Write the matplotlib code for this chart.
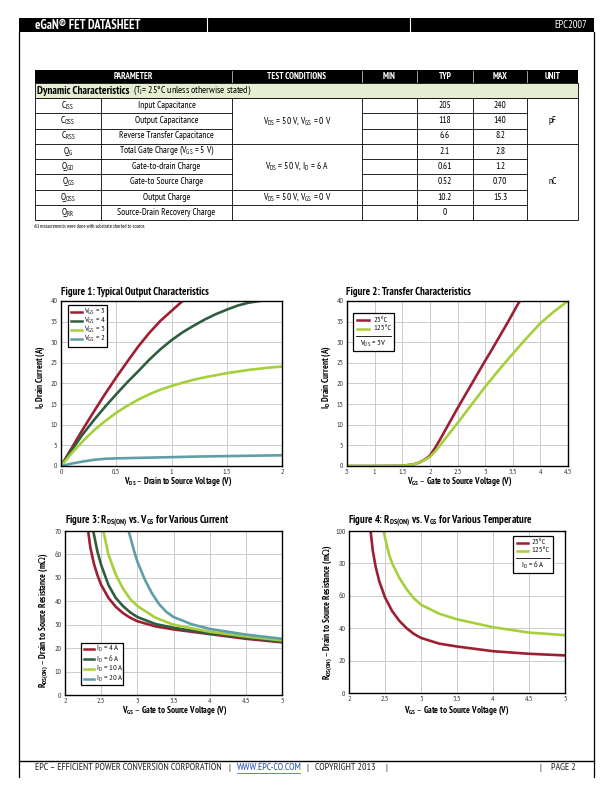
import matplotlib.pyplot as plt
from matplotlib.patches import Rectangle

plt.rcParams['font.family'] = ['PT Sans Narrow', 'Roboto Condensed', 'DejaVu Sans']
plt.rcParams['mathtext.default'] = 'regular'

RED = '#9e1f32'
DGREEN = '#2f5e3e'
LIME = '#a6cf3c'
TEAL = '#5f9ea6'
GRID = '#cccccc'
TXT = '#333333'

# ---- table data ----
symbols = ['C$_{ISS}$', 'C$_{OSS}$', 'C$_{RSS}$', 'Q$_{G}$', 'Q$_{GD}$', 'Q$_{GS}$', 'Q$_{OSS}$', 'Q$_{RR}$']
params = ['Input Capacitance', 'Output Capacitance', 'Reverse Transfer Capacitance',
          'Total Gate Charge (V$_{GS}$ = 5 V)', 'Gate-to-drain Charge', 'Gate-to Source Charge',
          'Output Charge', 'Source-Drain Recovery Charge']
typ = ['205', '118', '6.6', '2.1', '0.61', '0.52', '10.2', '0']
mx = ['240', '140', '8.2', '2.8', '1.2', '0.70', '15.3', '']
cond_groups = [(0, 2, 'V$_{DS}$ = 50 V, V$_{GS}$ = 0 V'), (3, 5, 'V$_{DS}$ = 50 V, I$_{D}$ = 6 A'),
               (6, 6, 'V$_{DS}$ = 50 V, V$_{GS}$ = 0 V'), (7, 7, '')]
unit_groups = [(0, 2, 'pF'), (3, 7, 'nC')]

# ---- Figure 1: output characteristics ----
f1_vgs5_x = [0, 0.1, 0.2, 0.3, 0.4, 0.5, 0.6, 0.7, 0.8, 0.9, 1.0, 1.1]
f1_vgs5_y = [0, 4.5, 9, 13.3, 17.5, 21.5, 25.3, 29, 32.3, 35.2, 37.6, 40]
f1_vgs4_x = [0, 0.1, 0.2, 0.3, 0.4, 0.5, 0.6, 0.7, 0.8, 0.9, 1.0, 1.1, 1.2, 1.3, 1.4, 1.5, 1.6, 1.7, 1.8]
f1_vgs4_y = [0, 4, 7.8, 11.2, 14.4, 17.4, 20.3, 23, 25.8, 28.3, 30.5, 32.4, 34, 35.5, 36.8, 37.9, 38.9, 39.6, 40]
f1_vgs3_x = [0, 0.1, 0.2, 0.3, 0.4, 0.5, 0.6, 0.7, 0.8, 0.9, 1.0, 1.1, 1.2, 1.3, 1.4, 1.5, 1.6, 1.7, 1.8, 1.9, 2.0]
f1_vgs3_y = [0, 3.2, 6.1, 8.7, 10.9, 12.9, 14.6, 16.1, 17.4, 18.5, 19.4, 20.2, 20.9, 21.5, 22.0, 22.5, 22.9, 23.3, 23.6, 23.9, 24.1]
f1_vgs2_x = [0, 0.1, 0.2, 0.3, 0.4, 0.5, 0.75, 1.0, 1.25, 1.5, 1.75, 2.0]
f1_vgs2_y = [0, 0.6, 1.1, 1.5, 1.75, 1.85, 2.0, 2.15, 2.3, 2.4, 2.5, 2.6]

# ---- Figure 2: transfer characteristics ----
f2_25_x = [0.5, 1.0, 1.5, 1.7, 1.8, 1.9, 2.0, 2.1, 2.2, 2.3, 2.4, 2.5, 2.6, 2.7, 2.8, 2.9, 3.0, 3.1, 3.2, 3.3, 3.4, 3.5, 3.6, 3.63]
f2_25_y = [0, 0, 0.05, 0.4, 0.8, 1.5, 2.5, 4.5, 6.8, 9.2, 11.6, 14, 16.3, 18.6, 20.9, 23.2, 25.5, 27.7, 30, 32.3, 34.6, 37, 39.4, 40]
f2_125_x = [0.5, 1.0, 1.5, 1.7, 1.8, 1.9, 2.0, 2.1, 2.2, 2.3, 2.4, 2.5, 2.75, 3.0, 3.25, 3.5, 3.75, 4.0, 4.25, 4.5]
f2_125_y = [0, 0, 0.05, 0.4, 0.8, 1.4, 2.2, 3.6, 5.3, 7.0, 8.7, 10.4, 14.8, 19.2, 23.3, 27.2, 31, 34.6, 37.5, 40]

# ---- Figure 3: RDS(on) vs VGS, various current ----
f3_4a_x = [2.32, 2.35, 2.4, 2.45, 2.5, 2.6, 2.7, 2.8, 2.9, 3.0, 3.25, 3.5, 4.0, 4.5, 5.0]
f3_4a_y = [70, 63, 56, 51, 47, 41.5, 37.7, 35, 33, 31.5, 29.3, 28, 26, 24, 22.5]
f3_6a_x = [2.39, 2.45, 2.5, 2.6, 2.7, 2.8, 2.9, 3.0, 3.25, 3.5, 4.0, 4.5, 5.0]
f3_6a_y = [70, 61, 55.5, 47, 41.5, 38, 35.3, 33.3, 30.3, 28.7, 26.3, 24.5, 22.8]
f3_10a_x = [2.53, 2.6, 2.7, 2.8, 2.9, 3.0, 3.25, 3.5, 4.0, 4.5, 5.0]
f3_10a_y = [70, 60, 51.5, 45.5, 41, 38, 33, 30, 27, 25, 23.3]
f3_20a_x = [2.88, 2.95, 3.0, 3.1, 3.2, 3.3, 3.4, 3.5, 3.75, 4.0, 4.5, 5.0]
f3_20a_y = [70, 62, 57, 49.5, 43.5, 38.8, 35.5, 33.3, 30.2, 28.2, 25.8, 24]

# ---- Figure 4: RDS(on) vs VGS, various temperature ----
f4_25_x = [2.3, 2.33, 2.37, 2.42, 2.5, 2.6, 2.7, 2.8, 2.9, 3.0, 3.25, 3.5, 4.0, 4.5, 5.0]
f4_25_y = [100, 88, 78, 69, 59, 50.5, 44.5, 40, 36.5, 34, 30.5, 28.7, 25.8, 24.2, 23.2]
f4_125_x = [2.48, 2.52, 2.56, 2.6, 2.7, 2.8, 2.9, 3.0, 3.25, 3.5, 4.0, 4.5, 5.0]
f4_125_y = [100, 92, 85, 80, 71, 64, 58.5, 54.5, 49, 45.5, 40.6, 37.3, 35.7]

fig = plt.figure(figsize=(6.12, 7.92), dpi=100)
pg = fig.add_axes([0, 0, 1, 1])
pg.set_xlim(0, 612)
pg.set_ylim(792, 0)
pg.axis('off')
renderer = fig.canvas.get_renderer()


def fit(t, size, vertical=False):
    # scale a text so that it spans `size` pixels, like in the datasheet
    bb = t.get_window_extent(renderer)
    cur = bb.height if vertical else bb.width
    t.set_fontsize(t.get_fontsize() * size / cur)
    return t.get_fontsize()


def px_axes(l, t, r, b):
    return fig.add_axes([l / 612, 1 - b / 792, (r - l) / 612, (b - t) / 792])


# ---- page frame, header, footer ----
pg.add_patch(Rectangle((19, 18), 575, 14, fc='black', ec='none'))
for xd in [207, 410]:
    pg.plot([xd, xd], [18, 32], color='white', lw=0.8)
fit(pg.text(35, 25.5, 'eGaN® FET DATASHEET', color='white', fontsize=8, fontweight='bold', va='center'), 106)
fit(pg.text(587, 25.5, 'EPC2007', color='white', fontsize=8, ha='right', va='center'), 33)
pg.plot([19, 19], [32, 777], color='black', lw=0.9)
pg.plot([594, 594], [32, 777], color='black', lw=0.9)
pg.plot([19, 594], [761, 761], color='black', lw=1.0)
fy = 768
fc = '#222222'
ffs = fit(pg.text(35, fy, 'EPC – EFFICIENT POWER CONVERSION CORPORATION', fontsize=7, va='center', color=fc), 188)
pg.text(229, fy, '|', fontsize=ffs, va='center', ha='center', color=fc)
pg.text(237, fy, 'WWW.EPC-CO.COM', fontsize=ffs, va='center', color='#2a4fb0')
pg.plot([237, 300], [fy + 4.5, fy + 4.5], color='#2a4fb0', lw=0.5)
pg.text(307, fy, '|', fontsize=ffs, va='center', ha='center', color=fc)
pg.text(315, fy, 'COPYRIGHT 2013', fontsize=ffs, va='center', color=fc)
pg.text(386, fy, '|', fontsize=ffs, va='center', ha='center', color=fc)
pg.text(540, fy, '|', fontsize=ffs, va='center', ha='center', color=fc)
pg.text(576, fy, 'PAGE 2', fontsize=ffs, va='center', ha='right', color=fc)

# ---- table ----
cols = [35, 101, 232, 362, 417, 473, 527, 578]
rb = [98, 113, 128.5, 143.5, 159, 174, 189.5, 205, 220]
lw_t = 0.6
pg.add_patch(Rectangle((35, 70), 543, 13, fc='black', ec='none'))
for xc in cols[2:-1]:
    pg.plot([xc, xc], [71, 82], color='#bbbbbb', lw=0.6)
probe = pg.text(0, 0, 'PARAMETER', fontsize=6, fontweight='bold')
hfs = fit(probe, 40)
probe.remove()
heads = [('PARAMETER', (35 + 232) / 2), ('TEST CONDITIONS', (232 + 362) / 2), ('MIN', 389.5),
         ('TYP', 445), ('MAX', 500), ('UNIT', 552.5)]
for h, hx in heads:
    pg.text(hx, 76.5, h, color='white', fontsize=hfs, fontweight='bold', ha='center', va='center')
probe = pg.text(0, 0, 'Reverse Transfer Capacitance', fontsize=6)
tfs = fit(probe, 95)
probe.remove()
pg.add_patch(Rectangle((35, 83), 543, 15, fc='#e6eed2', ec='black', lw=lw_t))
fit(pg.text(37, 90.5, 'Dynamic Characteristics', fontsize=7, fontweight='bold', va='center'), 93)
fit(pg.text(133, 90.5, '(T$_J$= 25°C unless otherwise stated)', fontsize=7, va='center'), 119)
pg.add_patch(Rectangle((35, 98), 543, 122, fc='white', ec='black', lw=lw_t))
for xc in cols[1:-1]:
    pg.plot([xc, xc], [98, 220], color='black', lw=lw_t)
for yb in rb[1:-1]:
    for c0, c1 in [(35, 232), (362, 527)]:
        pg.plot([c0, c1], [yb, yb], color='black', lw=lw_t)
for i0, i1, txt in cond_groups:
    if i1 < 7:
        pg.plot([232, 362], [rb[i1 + 1], rb[i1 + 1]], color='black', lw=lw_t)
    pg.text(297, (rb[i0] + rb[i1 + 1]) / 2, txt, fontsize=tfs, ha='center', va='center')
for i0, i1, txt in unit_groups:
    if i1 < 7:
        pg.plot([527, 578], [rb[i1 + 1], rb[i1 + 1]], color='black', lw=lw_t)
    pg.text(552.5, (rb[i0] + rb[i1 + 1]) / 2, txt, fontsize=tfs, ha='center', va='center')
for i in range(8):
    yc = (rb[i] + rb[i + 1]) / 2
    pg.text(68, yc, symbols[i], fontsize=tfs, ha='center', va='center')
    pg.text(166.5, yc, params[i], fontsize=tfs, ha='center', va='center')
    pg.text(445, yc, typ[i], fontsize=tfs, ha='center', va='center')
    pg.text(500, yc, mx[i], fontsize=tfs, ha='center', va='center')
fit(pg.text(34, 227, 'All measurements were done with substrate shorted to source.', fontsize=5, va='center'), 112)


# ---- charts ----
def style_axes(ax, xlim, ylim, xticks, yticks, xtl):
    ax.set_xlim(*xlim)
    ax.set_ylim(*ylim)
    ax.set_xticks(xticks)
    ax.set_yticks(yticks)
    ax.set_xticklabels(xtl)
    ax.grid(True, color=GRID, lw=0.7)
    ax.set_axisbelow(True)
    ax.tick_params(length=0, labelsize=5.6, labelcolor=TXT, pad=2.5)
    for s in ax.spines.values():
        s.set_linewidth(1.0)
        s.set_color('black')


def draw_legend(ax, box, rows, tx0, tx1, tlab, note=None, sep=None, note_y=None):
    l, t, r, b = box
    tr = pg.transData
    ax.add_patch(Rectangle((l, t), r - l, b - t, transform=tr, fc='white', ec='black', lw=0.9, zorder=5,
                           clip_on=False))
    for yy, color, lab in rows:
        ax.plot([tx0, tx1], [yy, yy], color=color, lw=1.8, transform=tr, zorder=6, clip_on=False)
        ax.text(tlab, yy, lab, fontsize=6, va='center', transform=tr, zorder=6, color='#111111')
    if note is not None:
        ax.plot([l + 3, r - 3], [sep, sep], color='black', lw=0.6, transform=tr, zorder=6, clip_on=False)
        ax.text((l + r) / 2, note_y, note, fontsize=6, ha='center', va='center', transform=tr, zorder=6)


# font sizes taken from figure 1 and reused for the other figures
probe = pg.text(0, 0, 'Figure 1: Typical Output Characteristics', fontsize=8, fontweight='bold')
TFS = fit(probe, 147)
probe.remove()
probe = pg.text(0, 0, 'V$_{DS}$ – Drain to Source Voltage (V)', fontsize=7, fontweight='bold')
LFS = fit(probe, 109)
probe.remove()


def title(x, y, s):
    pg.text(x, y, s, fontsize=TFS, fontweight='bold', va='center')


def xlabel(x, y, s):
    pg.text(x, y, s, fontsize=LFS, fontweight='bold', ha='center', va='center')


def ylabel(x, y, s):
    pg.text(x, y, s, fontsize=LFS, fontweight='bold', ha='center', va='center', rotation=90)


LW = 1.9
OHM = 'm$\\mathrm{\\Omega}$'

ax1 = px_axes(61, 301, 282, 466)
ax1.plot(f1_vgs5_x, f1_vgs5_y, color=RED, lw=LW)
ax1.plot(f1_vgs4_x, f1_vgs4_y, color=DGREEN, lw=LW)
ax1.plot(f1_vgs3_x, f1_vgs3_y, color=LIME, lw=LW)
ax1.plot(f1_vgs2_x, f1_vgs2_y, color=TEAL, lw=LW)
style_axes(ax1, (0, 2), (0, 40), [0, 0.5, 1, 1.5, 2], range(0, 41, 5), ['0', '0.5', '1', '1.5', '2'])
draw_legend(ax1, (68, 305, 107, 347),
            [(312, RED, 'V$_{GS}$ = 5'), (321, DGREEN, 'V$_{GS}$ = 4'),
             (330, LIME, 'V$_{GS}$ = 3'), (339, TEAL, 'V$_{GS}$ = 2')], 71, 82, 84)
title(61, 292, 'Figure 1: Typical Output Characteristics')
xlabel(178, 482, 'V$_{DS}$ – Drain to Source Voltage (V)')
ylabel(41, 377, 'I$_D$ Drain Current (A)')

ax2 = px_axes(347, 301, 568, 466)
ax2.plot(f2_25_x, f2_25_y, color=RED, lw=LW)
ax2.plot(f2_125_x, f2_125_y, color=LIME, lw=LW)
style_axes(ax2, (0.5, 4.5), (0, 40), [0.5, 1, 1.5, 2, 2.5, 3, 3.5, 4, 4.5], range(0, 41, 5),
           ['.5', '1', '1.5', '2', '2.5', '3', '3.5', '4', '4.5'])
draw_legend(ax2, (353, 313, 394, 351), [(320, RED, '25°C'), (329, LIME, '125°C')], 357, 369, 373,
            note='V$_{DS}$ = 3V', sep=336, note_y=344)
title(346, 292, 'Figure 2: Transfer Characteristics')
xlabel(460, 482, 'V$_{GS}$ – Gate to Source Voltage (V)')
ylabel(327, 377, 'I$_D$ Drain Current (A)')

ax3 = px_axes(65, 531, 282, 695)
ax3.plot(f3_4a_x, f3_4a_y, color=RED, lw=LW)
ax3.plot(f3_6a_x, f3_6a_y, color=DGREEN, lw=LW)
ax3.plot(f3_10a_x, f3_10a_y, color=LIME, lw=LW)
ax3.plot(f3_20a_x, f3_20a_y, color=TEAL, lw=LW)
style_axes(ax3, (2, 5), (0, 70), [2, 2.5, 3, 3.5, 4, 4.5, 5], range(0, 71, 10),
           ['2', '2.5', '3', '3.5', '4', '4.5', '5'])
draw_legend(ax3, (81, 643, 123, 685),
            [(649, RED, 'I$_D$ = 4 A'), (659, DGREEN, 'I$_D$ = 6 A'),
             (669, LIME, 'I$_D$ = 10 A'), (679, TEAL, 'I$_D$ = 20 A')], 84, 94, 96)
title(65, 521, 'Figure 3: R$_{DS(ON)}$ vs. V$_{GS}$ for Various Current')
xlabel(175, 710.5, 'V$_{GS}$ – Gate to Source Voltage (V)')
ylabel(44, 620, 'R$_{DS(ON)}$ – Drain to Source Resistance (' + OHM + ')')

ax4 = px_axes(349, 531, 565, 693)
ax4.plot(f4_25_x, f4_25_y, color=RED, lw=LW)
ax4.plot(f4_125_x, f4_125_y, color=LIME, lw=LW)
style_axes(ax4, (2, 5), (0, 100), [2, 2.5, 3, 3.5, 4, 4.5, 5], range(0, 101, 20),
           ['2', '2.5', '3', '3.5', '4', '4.5', '5'])
draw_legend(ax4, (513, 536, 553, 573), [(543, RED, '25°C'), (551, LIME, '125°C')], 517, 528, 531,
            note='I$_D$ = 6 A', sep=558, note_y=565)
title(348, 521, 'Figure 4: R$_{DS(ON)}$ vs. V$_{GS}$ for Various Temperature')
xlabel(457, 710.5, 'V$_{GS}$ – Gate to Source Voltage (V)')
ylabel(328, 612, 'R$_{DS(ON)}$ – Drain to Source Resistance (' + OHM + ')')

fig.savefig('out.png', dpi=100)
